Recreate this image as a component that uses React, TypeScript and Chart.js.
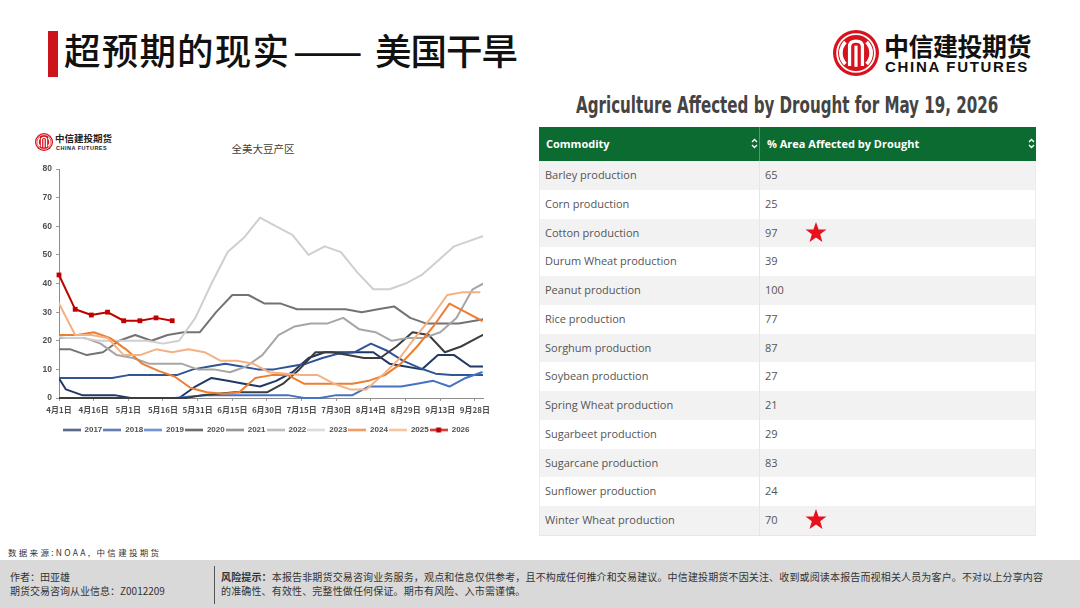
import React, { useEffect, useLayoutEffect, useRef } from 'react';
import { Chart, registerables } from 'chart.js';

Chart.register(...registerables);

// ---- 全美大豆产区: share of soybean area in drought (%), weekly readings by year ----
const YEARS = ['2017', '2018', '2019', '2020', '2021', '2022', '2023', '2024', '2025', '2026'];
// month-day of the first weekly reading plotted for each year
const FIRST_READING = ['03-28', '03-27', '03-26', '03-31', '03-30', '03-29', '03-28', '03-26', '04-01', '04-01'];

const S2017 = [12, 3, 1, 1, 1, 0, 0, 0, 0, 4, 7, 6, 5, 4, 6, 9, 14, 16, 16, 16, 16, 12, 11, 10, 15, 15, 11, 11];
const S2018 = [7, 7, 7, 7, 7, 8, 8, 8, 8, 10, 11, 12, 11, 10, 10, 11, 12, 14, 15.5, 16, 19, 16.5, 13, 10.5, 8.5, 8, 8, 8];
const S2019 = [0, 0, 0, 0, 0, 0, 0, 0, 0, 0.5, 1, 1, 1, 1, 1, 1, 0, 0, 1, 1, 4, 4, 4, 5, 6, 4, 7, 9];
const S2020 = [0, 0, 0, 0, 0, 0, 0, 0, 0, 1, 1.5, 2, 2, 2, 5, 10, 16, 16, 15, 14, 14, 18, 23, 22, 16, 18, 21, 24];
const S2021 = [17, 17, 15, 16, 20, 22, 20, 22, 23, 23, 30, 36, 36, 33, 33, 31, 31, 31, 31, 30, 31, 32, 28, 26, 26, 26, 27, 28];
const S2022 = [21, 21, 21, 19, 15, 14, 12, 12, 12, 10, 10, 9, 11, 15, 22, 25, 26, 26, 28, 24, 23, 20, 21, 21, 23, 28, 38, 41];
const S2023 = [22, 21, 21, 20, 20, 20, 20, 19, 20, 28, 40, 51, 56, 63, 60, 57, 50, 53, 51, 44, 38, 38, 40, 43, 48, 53, 55, 57];
const S2024 = [22, 22, 22, 23, 21, 17, 12, 9.5, 7.5, 3.5, 2, 1.5, 2, 7, 8, 8, 5, 5, 5, 5, 6, 8, 12, 18, 25, 33, 30, 27];
const S2025 = [33, 22, 22, 21, 15, 15, 17, 16, 17, 16, 13, 13, 12, 9, 8.5, 8, 8, 5, 3, 3, 8, 13.5, 21, 28, 36, 37, 37];
const S2026 = [43, 31, 29, 30, 27, 27, 28, 27];
const SERIES = [S2017, S2018, S2019, S2020, S2021, S2022, S2023, S2024, S2025, S2026];

const LINE_COLORS = ['#1f3864', '#2f5597', '#4472c4', '#3d3d3d', '#737373', '#a6a6a6', '#cfcfcf', '#ed7d31', '#f4b183', '#c00000'];
const MARKED_YEAR = '2026';

const X_TICK_LABELS = ['4月1日', '4月16日', '5月1日', '5月16日', '5月31日', '6月15日', '6月30日', '7月15日', '7月30日', '8月14日', '8月29日', '9月13日', '9月28日'];
const X_TICK_STEP_DAYS = 15;
const X_LAST_DAY = 183.5;
const Y_MAX = 80;
const Y_STEP = 10;

// ---- Agriculture Affected by Drought for May 19, 2026 ----
const COMMODITIES = [
  'Barley production', 'Corn production', 'Cotton production', 'Durum Wheat production',
  'Peanut production', 'Rice production', 'Sorghum production', 'Soybean production',
  'Spring Wheat production', 'Sugarbeet production', 'Sugarcane production',
  'Sunflower production', 'Winter Wheat production',
];
const AREA_IN_DROUGHT = [65, 25, 97, 39, 100, 77, 87, 27, 21, 29, 83, 24, 70];
const FLAGGED = ['Cotton production', 'Winter Wheat production'];

const CJK = "'Noto Sans CJK SC', 'Noto Sans', sans-serif";
const LATIN = "'Liberation Sans', Arial, sans-serif";

const daysAfterApril1 = (md: string) => {
  const [m, d] = md.split('-').map(Number);
  return Math.round((Date.UTC(2001, m - 1, d) - Date.UTC(2001, 3, 1)) / 86400000);
};

function legendSwatch(color: string, marker: boolean) {
  const c = document.createElement('canvas');
  c.width = 18;
  c.height = 7;
  const g = c.getContext('2d')!;
  g.strokeStyle = color;
  g.lineWidth = 2;
  g.beginPath();
  g.moveTo(0, 3.5);
  g.lineTo(18, 3.5);
  g.stroke();
  if (marker) {
    g.fillStyle = color;
    g.fillRect(6.5, 1, 5, 5);
  }
  return c;
}

// keeps the legend row a few pixels left of the plot centre
const legendShift = {
  id: 'legendShift',
  afterLayout(chart: any) {
    const lg = chart.legend;
    if (lg) {
      lg.left -= 5;
      lg.right -= 5;
    }
  },
};

function SoyDroughtChart() {
  const ref = useRef<HTMLCanvasElement>(null);

  useEffect(() => {
    const canvas = ref.current;
    if (!canvas) return;

    const datasets = YEARS.map((year, i) => {
      const start = daysAfterApril1(FIRST_READING[i]);
      const marked = year === MARKED_YEAR;
      return {
        label: year,
        data: SERIES[i].map((v, k) => ({ x: start + 7 * k, y: v })),
        borderColor: LINE_COLORS[i],
        backgroundColor: LINE_COLORS[i],
        borderWidth: 2,
        borderJoinStyle: 'round' as const,
        borderCapStyle: 'round' as const,
        pointRadius: marked ? 3.4 : 0,
        pointStyle: 'rect' as const,
        pointBorderWidth: 0,
        tension: 0,
        order: YEARS.length - i,
        clip: marked ? false : { left: 0, right: 0, top: 4, bottom: 4 },
      };
    });

    const swatches = YEARS.map((y, i) => legendSwatch(LINE_COLORS[i], y === MARKED_YEAR));

    const chart = new Chart(canvas, {
      type: 'line',
      data: { datasets: datasets as any },
      plugins: [legendShift],
      options: {
        responsive: false,
        animation: false,
        events: [],
        layout: { padding: { top: 9, right: 17, left: 0, bottom: 6 } },
        scales: {
          x: {
            type: 'linear',
            min: 0,
            max: X_LAST_DAY,
            afterFit: (s: any) => { s.height = 27; },
            ticks: {
              stepSize: X_TICK_STEP_DAYS,
              includeBounds: false,
              autoSkip: false,
              maxRotation: 0,
              minRotation: 0,
              padding: 4,
              color: '#505050',
              font: { family: CJK, size: 8, weight: 'bold' },
              callback: (v: any) => X_TICK_LABELS[Math.round(Number(v) / X_TICK_STEP_DAYS)] ?? '',
            },
            grid: { drawOnChartArea: false, drawTicks: true, tickLength: 3, color: '#9a9a9a' },
            border: { color: '#8c8c8c', width: 1 },
          },
          y: {
            min: 0,
            max: Y_MAX,
            afterFit: (s: any) => { s.width = 39; },
            ticks: {
              stepSize: Y_STEP,
              padding: 4,
              color: '#505050',
              font: { family: LATIN, size: 8.5, weight: 'bold' },
            },
            grid: { drawOnChartArea: false, drawTicks: true, tickLength: 3, color: '#9a9a9a' },
            border: { color: '#8c8c8c', width: 1 },
          },
        },
        plugins: {
          tooltip: { enabled: false },
          title: { display: false },
          legend: {
            display: true,
            position: 'bottom',
            fullSize: false,
            labels: {
              usePointStyle: true,
              pointStyleWidth: 18,
              boxHeight: 8,
              padding: 1,
              color: '#505050',
              font: { family: LATIN, size: 8, weight: 'bold' },
              sort: (a: any, b: any) => a.datasetIndex - b.datasetIndex,
              generateLabels: (c: any) => {
                const base = (Chart.defaults.plugins.legend.labels as any).generateLabels(c);
                return base.map((item: any) => ({ ...item, pointStyle: swatches[item.datasetIndex] }));
              },
            },
          },
        },
      } as any,
    });

    return () => chart.destroy();
  }, []);

  return (
    <canvas
      ref={ref}
      width={480}
      height={290}
      style={{ position: 'absolute', left: 20, top: 160, width: 480, height: 290 }}
    />
  );
}

function CiticMark({ size }: { size: number }) {
  return (
    <svg width={size} height={size} viewBox="0 0 100 100" style={{ display: 'block' }}>
      <circle cx="50" cy="50" r="50" fill="#d6131c" />
      <circle cx="50" cy="50" r="41" fill="none" stroke="#fff" strokeWidth="4" />
      <path d="M27 26 A 34 34 0 0 0 27 74" fill="none" stroke="#fff" strokeWidth="8" />
      <path d="M73 26 A 34 34 0 0 1 73 74" fill="none" stroke="#fff" strokeWidth="8" />
      <path d="M36 78 V 36 Q 36 24 50 24 Q 64 24 64 36 V 78" fill="none" stroke="#fff" strokeWidth="7" />
      <path d="M50 34 V 80" stroke="#fff" strokeWidth="7" />
    </svg>
  );
}

function FitWidth({ width, style, children }: { width: number; style: React.CSSProperties; children: React.ReactNode }) {
  const ref = useRef<HTMLSpanElement>(null);
  useLayoutEffect(() => {
    const el = ref.current;
    if (!el) return;
    const w = el.offsetWidth;
    if (w > 0) el.style.transform = `scaleX(${width / w})`;
  }, [width]);
  return (
    <span ref={ref} style={{ display: 'inline-block', whiteSpace: 'nowrap', transformOrigin: 'left center', ...style }}>
      {children}
    </span>
  );
}

function SortIcon({ left }: { left: number }) {
  return (
    <svg width="7" height="11" viewBox="0 0 7 11" style={{ position: 'absolute', left, top: 11 }}>
      <path d="M1 4 L3.5 1.5 L6 4" fill="none" stroke="#fff" strokeWidth="1.4" />
      <path d="M1 7 L3.5 9.5 L6 7" fill="none" stroke="#fff" strokeWidth="1.4" />
    </svg>
  );
}

function Star({ cx, cy, r }: { cx: number; cy: number; r: number }) {
  const pts: string[] = [];
  for (let i = 0; i < 10; i++) {
    const rad = i % 2 === 0 ? r : r * 0.4;
    const a = -Math.PI / 2 + (i * Math.PI) / 5;
    pts.push(`${(cx + rad * Math.cos(a)).toFixed(2)},${(cy + rad * Math.sin(a)).toFixed(2)}`);
  }
  return <polygon points={pts.join(' ')} fill="#e8101a" />;
}

function DroughtTable() {
  const left = 539;
  const top = 127;
  const width = 497;
  const firstCol = 220;
  const headH = 34;
  const rowH = 28.77;
  return (
    <div style={{ position: 'absolute', left, top, width, fontFamily: "'Open Sans', sans-serif", fontSize: 11 }}>
      <div style={{ position: 'relative', height: headH, background: '#0c6b31', color: '#fff', fontWeight: 700 }}>
        <div style={{ position: 'absolute', left: 7, top: 0, lineHeight: `${headH}px` }}>Commodity</div>
        <SortIcon left={firstCol - 8} />
        <div style={{ position: 'absolute', left: firstCol - 0.5, top: 0, width: 1, height: headH, background: '#4f9a6b' }} />
        <div style={{ position: 'absolute', left: firstCol + 8, top: 0, lineHeight: `${headH}px` }}>% Area Affected by Drought</div>
        <SortIcon left={width - 8} />
      </div>
      {COMMODITIES.map((name, i) => (
        <div
          key={name}
          style={{
            position: 'relative',
            height: rowH,
            background: i % 2 === 0 ? '#f2f2f2' : '#ffffff',
            color: '#555',
            borderLeft: '1px solid #ececec',
            borderRight: '1px solid #ececec',
            boxSizing: 'border-box',
          }}
        >
          <div style={{ position: 'absolute', left: 5, top: 0, lineHeight: `${rowH}px` }}>{name}</div>
          <div style={{ position: 'absolute', left: firstCol - 1, top: 0, width: 1, height: rowH, background: '#e6e6e6' }} />
          <div style={{ position: 'absolute', left: firstCol + 5, top: 0, lineHeight: `${rowH}px` }}>{AREA_IN_DROUGHT[i]}</div>
          {FLAGGED.includes(name) && (
            <svg width="30" height="30" style={{ position: 'absolute', left: firstCol + 41, top: -1 }}>
              <Star cx={15} cy={15} r={11} />
            </svg>
          )}
        </div>
      ))}
      <div style={{ height: 1, background: '#e6e6e6' }} />
    </div>
  );
}

export default function App() {
  const heading: React.CSSProperties = {
    position: 'absolute',
    top: 32,
    fontSize: 36.5,
    lineHeight: '36px',
    fontWeight: 500,
    whiteSpace: 'nowrap',
    color: '#111',
  };
  return (
    <div
      style={{
        position: 'absolute',
        left: 0,
        top: 0,
        width: 1080,
        height: 608,
        background: '#ffffff',
        overflow: 'hidden',
        fontFamily: CJK,
        color: '#111',
      }}
    >
      {/* heading */}
      <div style={{ position: 'absolute', left: 48, top: 31, width: 10, height: 46, background: '#cc141c' }} />
      <div style={{ ...heading, left: 64, letterSpacing: 1.2 }}>超预期的现实</div>
      <div style={{ ...heading, left: 293 }}>
        <FitWidth width={70} style={{}}>——</FitWidth>
      </div>
      <div style={{ ...heading, left: 375, letterSpacing: -1 }}>美国干旱</div>

      {/* brand */}
      <div style={{ position: 'absolute', left: 833, top: 30 }}>
        <CiticMark size={46} />
      </div>
      <div
        style={{
          position: 'absolute',
          left: 884,
          top: 30,
          fontSize: 25,
          lineHeight: '30px',
          fontWeight: 700,
          color: '#111',
          whiteSpace: 'nowrap',
          letterSpacing: -0.5,
        }}
      >
        中信建投期货
      </div>
      <div
        style={{
          position: 'absolute',
          left: 885,
          top: 58,
          fontSize: 15,
          lineHeight: '17px',
          fontWeight: 700,
          fontFamily: LATIN,
          color: '#111',
          whiteSpace: 'nowrap',
          letterSpacing: 1.7,
        }}
      >
        CHINA FUTURES
      </div>

      {/* chart header */}
      <div style={{ position: 'absolute', left: 35, top: 133 }}>
        <CiticMark size={18} />
      </div>
      <div style={{ position: 'absolute', left: 55, top: 133, fontSize: 9.5, lineHeight: '11px', fontWeight: 700, whiteSpace: 'nowrap', color: '#222' }}>
        中信建投期货
      </div>
      <div
        style={{
          position: 'absolute',
          left: 56,
          top: 145,
          fontSize: 5.5,
          lineHeight: '7px',
          fontWeight: 700,
          fontFamily: LATIN,
          whiteSpace: 'nowrap',
          letterSpacing: 0.5,
          color: '#222',
        }}
      >
        CHINA FUTURES
      </div>
      <div
        style={{
          position: 'absolute',
          left: 213,
          width: 100,
          top: 142,
          textAlign: 'center',
          fontSize: 10.5,
          lineHeight: '14px',
          color: '#404040',
          whiteSpace: 'nowrap',
        }}
      >
        全美大豆产区
      </div>

      <SoyDroughtChart />

      {/* table */}
      <div style={{ position: 'absolute', left: 576, top: 93.5, height: 24 }}>
        <FitWidth
          width={422}
          style={{
            fontFamily: "'Liberation Sans Narrow', 'DejaVu Sans Condensed', 'Liberation Sans', sans-serif",
            fontSize: 23,
            lineHeight: '23px',
            fontWeight: 700,
            color: '#444',
          }}
        >
          Agriculture Affected by Drought for May 19, 2026
        </FitWidth>
      </div>
      <DroughtTable />

      {/* source */}
      <div
        style={{
          position: 'absolute',
          left: 8,
          top: 546,
          fontSize: 8.5,
          lineHeight: '12px',
          letterSpacing: 2.3,
          color: '#333',
          whiteSpace: 'nowrap',
        }}
      >
        数据来源:NOAA, 中信建投期货
      </div>

      {/* footer band */}
      <div style={{ position: 'absolute', left: 0, top: 560, width: 1080, height: 48, background: '#d9d9d9' }} />
      <div style={{ position: 'absolute', left: 10, top: 570, fontSize: 10, lineHeight: '13.5px', color: '#333', whiteSpace: 'nowrap' }}>
        作者：田亚雄
        <br />
        期货交易咨询从业信息：Z0012209
      </div>
      <div style={{ position: 'absolute', left: 214, top: 566, width: 1, height: 38, background: '#555' }} />
      <div
        style={{
          position: 'absolute',
          left: 221,
          top: 570,
          fontSize: 10,
          lineHeight: '13.5px',
          letterSpacing: 0.15,
          color: '#333',
          whiteSpace: 'nowrap',
        }}
      >
        <b>风险提示：</b>本报告非期货交易咨询业务服务，观点和信息仅供参考，且不构成任何推介和交易建议。中信建投期货不因关注、收到或阅读本报告而视相关人员为客户。不对以上分享内容
        <br />
        的准确性、有效性、完整性做任何保证。期市有风险、入市需谨慎。
      </div>
    </div>
  );
}
